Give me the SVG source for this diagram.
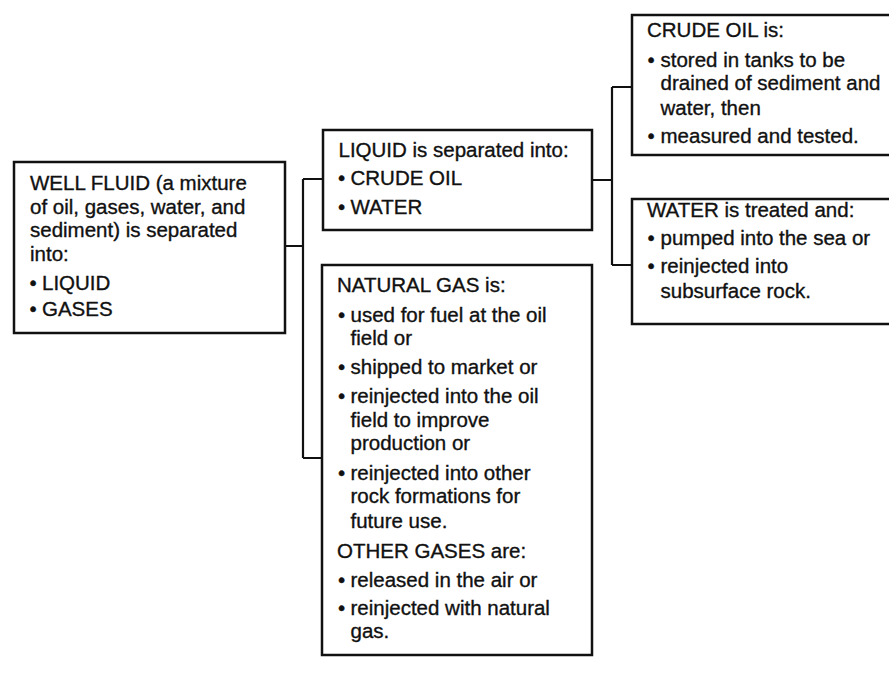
<svg xmlns="http://www.w3.org/2000/svg" width="889" height="679" viewBox="0 0 889 679">
<style>
.box{fill:#fff;stroke:#111;stroke-width:2.5}
.con{fill:none;stroke:#111;stroke-width:2.2}
text{font-family:"Liberation Sans",Arial,Helvetica,sans-serif;font-size:20.5px;fill:#111;stroke:#111;stroke-width:0.35}
</style>
<rect width="889" height="679" fill="#fff"/>
<g id="connectors">
<path class="con" d="M285,246 H303 M303,179 V458 M303,179 H323 M303,458 H322"/>
<path class="con" d="M592,180 H612 M612,87 V265 M612,87 H632 M612,265 H632"/>
</g>
<g id="well-fluid">
<rect class="box" x="14" y="162" width="271" height="171"/>
<text x="30" y="190">WELL FLUID (a mixture</text>
<text x="30" y="213.5">of oil, gases, water, and</text>
<text x="30" y="237">sediment) is separated</text>
<text x="30" y="260.5">into:</text>
<text x="29.5" y="289.5">•</text><text x="42" y="289.5">LIQUID</text>
<text x="29.5" y="316">•</text><text x="42" y="316">GASES</text>
</g>
<g id="liquid">
<rect class="box" x="323" y="130" width="269" height="100"/>
<text x="338.5" y="157">LIQUID is separated into:</text>
<text x="338" y="185">•</text><text x="350.5" y="185">CRUDE OIL</text>
<text x="338" y="214">•</text><text x="350.5" y="214">WATER</text>
</g>
<g id="natural-gas">
<rect class="box" x="322" y="265" width="270" height="390"/>
<text x="337" y="291.7">NATURAL GAS is:</text>
<text x="338" y="321.7">•</text><text x="350.5" y="321.7">used for fuel at the oil</text>
<text x="350.5" y="345">field or</text>
<text x="338" y="374">•</text><text x="350.5" y="374">shipped to market or</text>
<text x="338" y="402.7">•</text><text x="350.5" y="402.7">reinjected into the oil</text>
<text x="350.5" y="426.7">field to improve</text>
<text x="350.5" y="450">production or</text>
<text x="338" y="480">•</text><text x="350.5" y="480">reinjected into other</text>
<text x="350.5" y="503.3">rock formations for</text>
<text x="350.5" y="528.3">future use.</text>
<text x="337" y="558.3">OTHER GASES are:</text>
<text x="338" y="586.7">•</text><text x="350.5" y="586.7">released in the air or</text>
<text x="338" y="615">•</text><text x="350.5" y="615">reinjected with natural</text>
<text x="350.5" y="638.3">gas.</text>
</g>
<g id="crude-oil">
<rect class="box" x="632" y="15" width="263" height="140"/>
<text x="647" y="37.3">CRUDE OIL is:</text>
<text x="647.5" y="66.7">•</text><text x="660.5" y="66.7">stored in tanks to be</text>
<text x="660.5" y="90">drained of sediment and</text>
<text x="660.5" y="115">water, then</text>
<text x="647.5" y="143.3">•</text><text x="660.5" y="143.3">measured and tested.</text>
</g>
<g id="water">
<rect class="box" x="632" y="199" width="263" height="125"/>
<text x="647" y="216.7">WATER is treated and:</text>
<text x="647.5" y="245">•</text><text x="660.5" y="245">pumped into the sea or</text>
<text x="647.5" y="273.3">•</text><text x="660.5" y="273.3">reinjected into</text>
<text x="660.5" y="298.3">subsurface rock.</text>
</g>
</svg>
